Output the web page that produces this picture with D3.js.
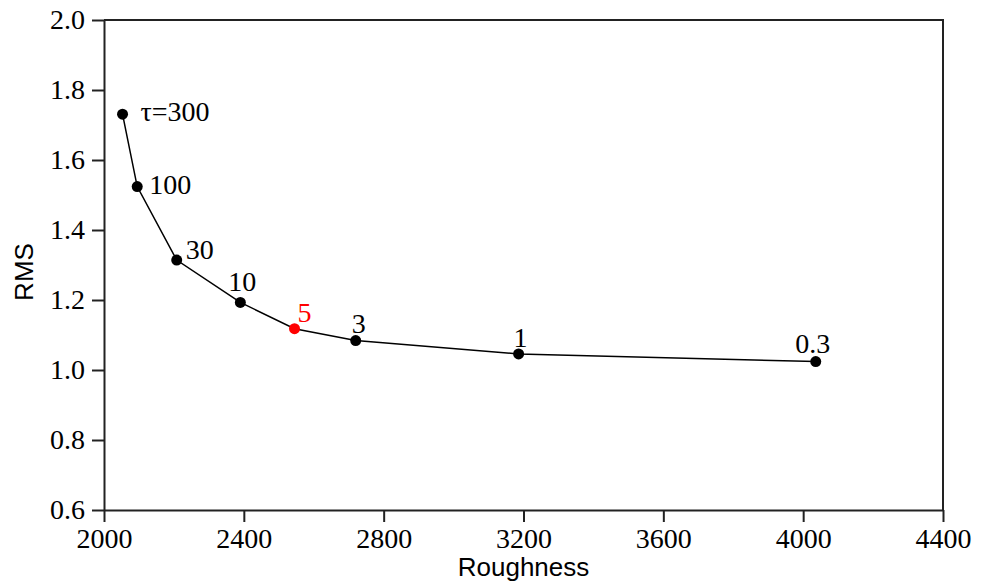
<!DOCTYPE html>
<html>
<head>
<meta charset="utf-8">
<script src="https://cdn.jsdelivr.net/npm/d3@7"></script>
<style>
  body { margin: 0; background: #fff; }
  svg { display: block; }
</style>
</head>
<body>
<svg width="987" height="584"></svg>
<script>
// data
const roughness = [2053, 2095, 2208, 2390, 2545, 2720, 3186, 4036]
const rms = [1.731, 1.524, 1.314, 1.193, 1.118, 1.084, 1.046, 1.024]
const tau_labels = ["τ=300", "100", "30", "10", "5", "3", "1", "0.3"]
const highlight = "5"

const x_ticks = [2000, 2400, 2800, 3200, 3600, 4000, 4400]
const y_ticks = [0.6, 0.8, 1.0, 1.2, 1.4, 1.6, 1.8, 2.0]

// label placement relative to each point: [dx, dy, anchor]
const label_offsets = [
    [18, 7, "start"], [12, 7, "start"], [9, -1, "start"], [2, -11, "middle"],
    [3, -7, "start"], [3, -8, "middle"], [2, -7, "middle"], [-3, -9, "middle"]
]

const margin = {left: 104, top: 20, right: 44, bottom: 74}
const width = 987 - margin.left - margin.right
const height = 584 - margin.top - margin.bottom
const tick_len = 12
const axis_color = "#222"
const serif = "'Liberation Serif', 'Times New Roman', serif"
const sans = "'Liberation Sans', Arial, sans-serif"

const points = roughness.map((r, i) => ({x: r, y: rms[i], label: tau_labels[i], off: label_offsets[i]}))

var svg = d3.select("svg")
var g = svg.append("g").attr("transform", `translate(${margin.left},${margin.top})`)

const x = d3.scaleLinear().domain([2000, 4400]).range([0, width])
const y = d3.scaleLinear().domain([0.6, 2.0]).range([height, 0])

// frame (top and right)
g.append("path")
    .attr("d", `M0,0H${width}V${height}`)
    .attr("fill", "none")
    .attr("stroke", axis_color)
    .attr("stroke-width", 2)

const x_axis = g.append("g")
    .attr("transform", `translate(0,${height})`)
    .call(d3.axisBottom(x).tickValues(x_ticks).tickFormat(d3.format("d"))
        .tickSize(tick_len).tickSizeOuter(0).tickPadding(6))

const y_axis = g.append("g")
    .call(d3.axisLeft(y).tickValues(y_ticks).tickFormat(d3.format(".1f"))
        .tickSize(tick_len).tickSizeOuter(0).tickPadding(7))

for (const ax of [x_axis, y_axis]) {
    ax.select(".domain").attr("stroke", axis_color).attr("stroke-width", 2)
    ax.selectAll(".tick line").attr("stroke", axis_color).attr("stroke-width", 2)
    ax.selectAll(".tick text")
        .attr("fill", "#000")
        .style("font-family", serif)
        .style("font-size", "28px")
}

// axis titles
svg.append("text")
    .attr("x", margin.left + width / 2)
    .attr("y", 576)
    .attr("text-anchor", "middle")
    .style("font-family", sans)
    .style("font-size", "26px")
    .text("Roughness")

svg.append("text")
    .attr("transform", `translate(33,${margin.top + height / 2 + 7}) rotate(-90)`)
    .attr("text-anchor", "middle")
    .style("font-family", sans)
    .style("font-size", "26px")
    .text("RMS")

// curve
const line = d3.line().x(d => x(d.x)).y(d => y(d.y))
g.append("path")
    .datum(points)
    .attr("d", line)
    .attr("fill", "none")
    .attr("stroke", "#000")
    .attr("stroke-width", 1.5)

const color_of = d => d.label === highlight ? "#ff0000" : "#000"

g.selectAll("circle")
    .data(points)
    .enter()
    .append("circle")
    .attr("cx", d => x(d.x))
    .attr("cy", d => y(d.y))
    .attr("r", 5.5)
    .attr("fill", color_of)

g.selectAll(".pt-label")
    .data(points)
    .enter()
    .append("text")
    .attr("class", "pt-label")
    .attr("x", d => x(d.x) + d.off[0])
    .attr("y", d => y(d.y) + d.off[1])
    .attr("text-anchor", d => d.off[2])
    .attr("fill", color_of)
    .style("font-family", serif)
    .style("font-size", "28px")
    .text(d => d.label)
</script>
</body>
</html>
